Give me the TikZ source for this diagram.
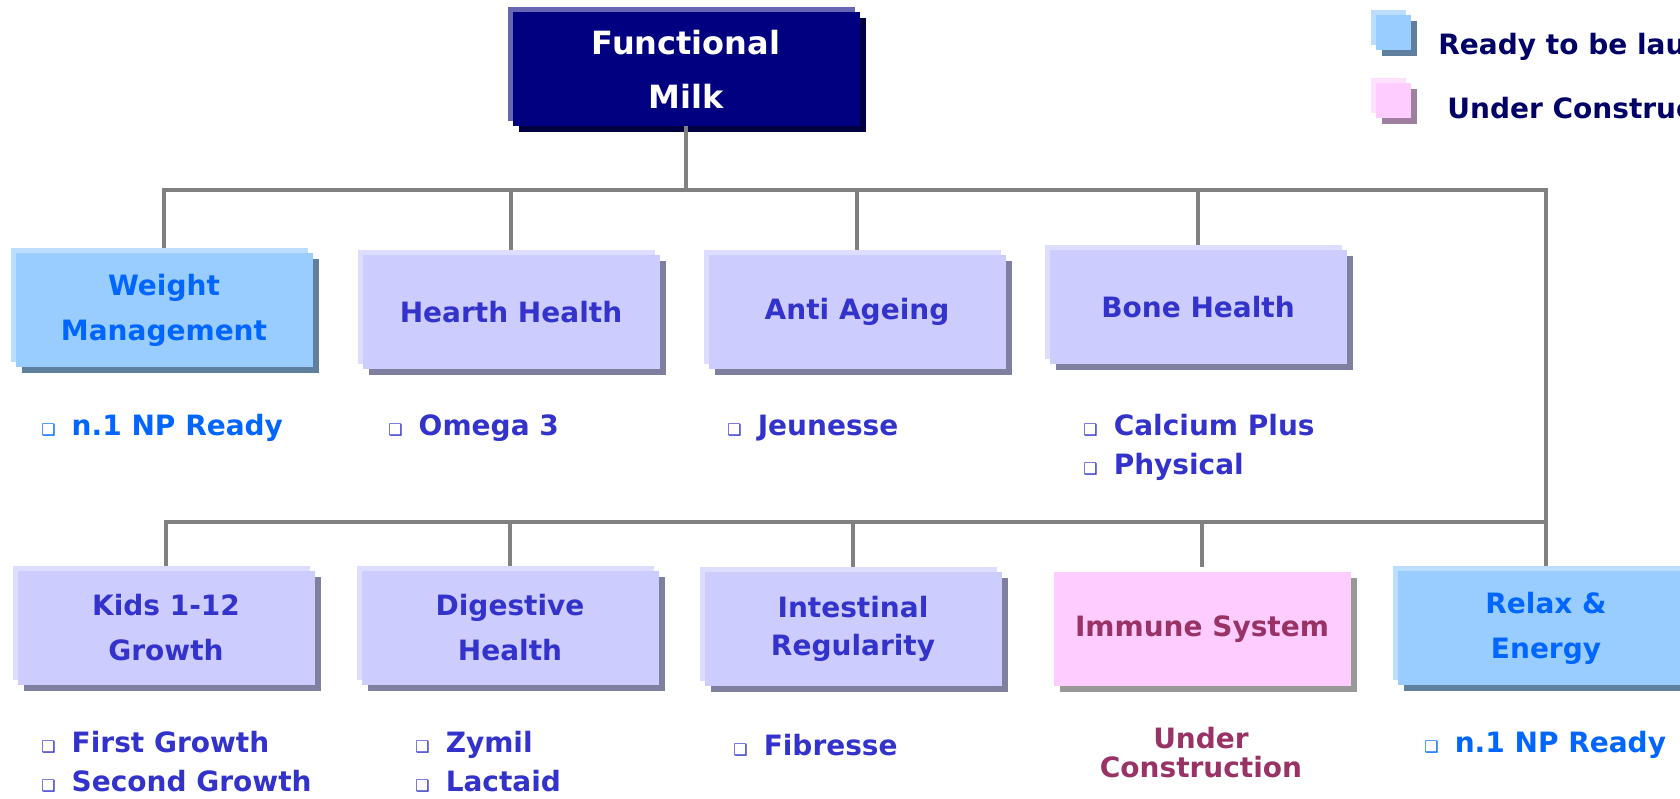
\documentclass[tikz,border=0pt]{standalone}
\usepackage{fontspec}
\setmainfont{DejaVu Sans}
\usetikzlibrary{shadows}

\definecolor{navy}{HTML}{000080}
\definecolor{navyback}{HTML}{6666B3}
\definecolor{navyshade}{HTML}{000040}
\definecolor{lavender}{HTML}{CCCCFF}
\definecolor{lavback}{HTML}{DDDDFF}
\definecolor{lavshade}{HTML}{7F7F9F}
\definecolor{lavtext}{HTML}{3333CC}
\definecolor{skyblue}{HTML}{99CCFF}
\definecolor{skyback}{HTML}{BBDDFF}
\definecolor{skyshade}{HTML}{5F7F9F}
\definecolor{skytext}{HTML}{0066FF}
\definecolor{pinkfill}{HTML}{FFCCFF}
\definecolor{pinkback}{HTML}{FFE0FF}
\definecolor{pinkshade}{HTML}{999999}
\definecolor{pinklegshade}{HTML}{9F7F9F}
\definecolor{pinktext}{HTML}{993366}
\definecolor{legendtext}{HTML}{000066}
\definecolor{linkgray}{HTML}{808080}

\newcommand\bx{{\fontsize{8}{8}\selectfont ❑}\hspace{8pt}}

\tikzset{
  link/.style={draw=linkgray, line width=2pt},
  layered/.style 2 args={general shadow={fill=#1, shadow xshift=-2.5pt, shadow yshift=2.5pt},
                         general shadow={fill=#2, shadow xshift=3pt, shadow yshift=-3pt}},
  card/.style={minimum width=148.5pt, minimum height=57pt, inner sep=0pt, align=center,
               font=\fontsize{14}{22.5}\selectfont\bfseries},
  rootcard/.style={card, minimum width=173.5pt, fill=navy, text=white, layered={navyback}{navyshade},
                   font=\fontsize{16}{27}\selectfont\bfseries},
  purplecard/.style={card, fill=lavender, text=lavtext, layered={lavback}{lavshade}},
  bluecard/.style={card, fill=skyblue, text=skytext, layered={skyback}{skyshade}},
  pinkcard/.style={card, fill=pinkfill, text=pinktext,
                   general shadow={fill=pinkshade, shadow xshift=3pt, shadow yshift=-3pt}},
  items/.style={anchor=west, align=left, inner sep=0pt, text=lavtext,
                font=\fontsize{14}{19.5}\selectfont\bfseries},
  legsq/.style={minimum size=17.5pt, inner sep=0pt},
  legtext/.style={anchor=west, inner sep=0pt, text=legendtext, font=\fontsize{14}{15}\selectfont\bfseries}
}

\begin{document}
\begin{tikzpicture}[x=0.5pt, y=-0.5pt]
  \useasboundingbox (0,0) rectangle (1680,798);
  \clip (0,0) rectangle (1680,798);

  % root
  \node[rootcard] (milk) at (686,69) {Functional\\Milk};

  % first row
  \node[bluecard] (weight) at (164,310) {Weight\\Management};
  \node[purplecard] (hearth) at (511,312) {Hearth Health};
  \node[purplecard] (ageing) at (857,312) {Anti Ageing};
  \node[purplecard] (bone) at (1198,307) {Bone Health};

  % second row
  \node[purplecard] (kids) at (166,628) {Kids 1-12\\Growth};
  \node[purplecard] (digest) at (510,628) {Digestive\\Health};
  \node[purplecard] (intest) at (853,629) {Intestinal\\[-3.5pt]Regularity};
  \node[pinkcard] (immune) at (1202,629) {Immune System};
  \node[bluecard] (relax) at (1546,628) {Relax \&\\Energy};

  % connectors
  \coordinate (hub) at (686,190);
  \coordinate (hubb) at (1546,522);
  \draw[link] (milk.south) -- (hub);
  \foreach \n in {weight,hearth,ageing,bone,relax}
    \draw[link, shorten >=2.5pt] (hub) -| (\n.north);
  \foreach \n in {kids,digest,intest,immune}
    \draw[link, shorten >=2.5pt] (hubb) -| (\n.north);

  % products
  \node[items, text=skytext] (wmlist) at (41,428) {\bx n.1 NP Ready};
  \node[items] (hhlist) at (388,428) {\bx Omega 3};
  \node[items] (aalist) at (727,428) {\bx Jeunesse};
  \node[items] (bhlist) at (1083,447) {\bx Calcium Plus\\\bx Physical};
  \node[items] (kglist) at (41,762) {\bx First Growth\\\bx Second Growth};
  \node[items] (dhlist) at (415,762) {\bx Zymil\\\bx Lactaid};
  \node[items] (irlist) at (733,745) {\bx Fibresse};
  \node[align=center, inner sep=0pt, text=pinktext, font=\fontsize{14}{14.5}\selectfont\bfseries]
    (islist) at (1201,753) {Under\\Construction};
  \node[items, text=skytext] (relist) at (1424,745) {\bx n.1 NP Ready};

  % legend
  \node[legsq, fill=skyblue, layered={skyback}{skyshade}] (legready) at (1393,32) {};
  \node[legtext] (legreadytext) at (1438,47) {Ready to be launched};
  \node[legsq, fill=pinkfill, layered={pinkback}{pinklegshade}] (legbuild) at (1393,100) {};
  \node[legtext] (legbuildtext) at (1447,108) {Under Construction};
\end{tikzpicture}
\end{document}
